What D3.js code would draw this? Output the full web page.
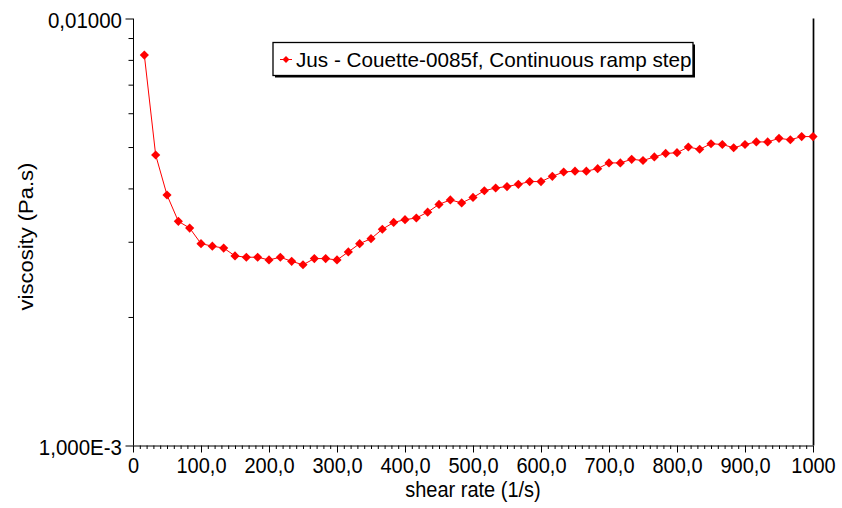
<!DOCTYPE html>
<html>
<head>
<meta charset="utf-8">
<script src="https://cdn.jsdelivr.net/npm/d3@7"></script>
<style>
  html, body { margin: 0; padding: 0; background: #fff; }
  svg text { font-family: Arial, "Liberation Sans", sans-serif; fill: #000; }
</style>
</head>
<body>
<svg id="chart" width="842" height="508"></svg>
<script>
// Shear rate (1/s) of each measured step
const shearRate = [
  16.67, 33.33, 50.00, 66.67, 83.33, 100.00, 116.67, 133.33, 150.00, 166.67,
  183.33, 200.00, 216.67, 233.33, 250.00, 266.67, 283.33, 300.00, 316.67, 333.33,
  350.00, 366.67, 383.33, 400.00, 416.67, 433.33, 450.00, 466.67, 483.33, 500.00,
  516.67, 533.33, 550.00, 566.67, 583.33, 600.00, 616.67, 633.33, 650.00, 666.67,
  683.33, 700.00, 716.67, 733.33, 750.00, 766.67, 783.33, 800.00, 816.67, 833.33,
  850.00, 866.67, 883.33, 900.00, 916.67, 933.33, 950.00, 966.67, 983.33, 1000.00
];

// Viscosity (Pa.s) at each step
const viscosity = [
  0.00821, 0.00479, 0.00386, 0.00335, 0.00323, 0.00297, 0.00293, 0.00290, 0.00278, 0.00276,
  0.00276, 0.00272, 0.00276, 0.00270, 0.00265, 0.00274, 0.00274, 0.00272, 0.00284, 0.00297,
  0.00305, 0.00321, 0.00333, 0.00338, 0.00341, 0.00352, 0.00367, 0.00376, 0.00370, 0.00381,
  0.00395, 0.00401, 0.00404, 0.00409, 0.00415, 0.00415, 0.00427, 0.00437, 0.00439, 0.00439,
  0.00445, 0.00459, 0.00459, 0.00468, 0.00465, 0.00474, 0.00483, 0.00485, 0.00500, 0.00494,
  0.00509, 0.00507, 0.00498, 0.00507, 0.00514, 0.00514, 0.00524, 0.00520, 0.00529, 0.00529
];

const seriesName = "Jus - Couette-0085f, Continuous ramp step";
const xLabel = "shear rate (1/s)";
const yLabel = "viscosity (Pa.s)";

const xMajorTicks = [0, 100, 200, 300, 400, 500, 600, 700, 800, 900, 1000];
const xTickLabels = ["0", "100,0", "200,0", "300,0", "400,0", "500,0", "600,0", "700,0", "800,0", "900,0", "1000"];
const yMajorTicks = [0.001, 0.01];
const yTickLabels = ["1,000E-3", "0,01000"];
const yMinorTicks = [0.002, 0.003, 0.004, 0.005, 0.006, 0.007, 0.008, 0.009];

const svg = d3.select("#chart");
const plotLeft = 133, plotRight = 813, plotTop = 18.5, plotBottom = 445.5;

const x = d3.scaleLinear().domain([0, 1000]).range([plotLeft, plotRight]);
const y = d3.scaleLog().domain([0.001, 0.01]).range([plotBottom, plotTop]);

const red = "#ff0000";
const fontStack = "Arial, 'Liberation Sans', sans-serif";
const tall = 1.1; // axis lettering is drawn slightly elongated vertically

// Bottom axis: long ticks every 100, short ticks every 10
const xMinor = d3.range(0, 1001, 10).filter(v => v % 100 !== 0);
const xAxisMinor = d3.axisBottom(x).tickValues(xMinor).tickSize(3.5).tickFormat("");
const xAxis = d3.axisBottom(x).tickValues(xMajorTicks).tickSize(7)
  .tickFormat((d, i) => xTickLabels[i]);

const gxm = svg.append("g").attr("transform", `translate(0,${plotBottom})`).call(xAxisMinor);
gxm.select(".domain").remove();
const gx = svg.append("g").attr("transform", `translate(0,${plotBottom})`).call(xAxis);
gx.select(".domain").attr("d", `M${plotLeft},0.5H${plotRight}`).attr("stroke", "#000");
gx.selectAll("text").attr("font-size", 20).attr("dy", null).attr("y", 0)
  .attr("transform", `translate(0,27.5) scale(1,${tall})`)
  .attr("font-family", fontStack);

// Left axis: log scale with decade labels and unlabeled minor ticks
const yAxisMinor = d3.axisLeft(y).tickValues(yMinorTicks).tickSize(4.5).tickFormat("");
const yAxis = d3.axisLeft(y).tickValues(yMajorTicks).tickSize(7.5)
  .tickFormat((d, i) => yTickLabels[i]);
const gym = svg.append("g").attr("transform", `translate(${plotLeft},0)`).call(yAxisMinor);
gym.select(".domain").remove();
const gy = svg.append("g").attr("transform", `translate(${plotLeft},0)`).call(yAxis);
gy.select(".domain").attr("d", `M0.5,${plotTop}V${plotBottom}`).attr("stroke", "#000");
gy.selectAll("text").attr("font-size", 20.5).attr("x", 0).attr("dy", "0.36em")
  .attr("transform", `translate(-11,0.5) scale(1,${tall})`)
  .attr("font-family", fontStack);
svg.selectAll(".tick line").attr("stroke", "#000");

// Right frame edge
svg.append("line")
  .attr("x1", plotRight + 0.5).attr("x2", plotRight + 0.5)
  .attr("y1", plotTop).attr("y2", plotBottom)
  .attr("stroke", "#000").attr("stroke-width", 1.7);

// Axis titles
svg.append("text")
  .attr("transform", `translate(${(plotLeft + plotRight) / 2},497) scale(1,${tall})`)
  .attr("text-anchor", "middle").attr("font-size", 20)
  .text(xLabel);
svg.append("text")
  .attr("transform", `translate(33,236.5) rotate(-90) scale(${tall},1)`)
  .attr("text-anchor", "middle").attr("font-size", 20)
  .text(yLabel);

// Series line and diamond markers
const pts = shearRate.map((s, i) => [s, viscosity[i]]);
const line = d3.line().x(d => x(d[0])).y(d => y(d[1]));
svg.append("path").datum(pts)
  .attr("d", line).attr("fill", "none")
  .attr("stroke", red).attr("stroke-width", 1);

svg.append("g").selectAll("path").data(pts).join("path")
  .attr("transform", d => `translate(${x(d[0])},${y(d[1])}) rotate(45)`)
  .attr("d", d3.symbol().type(d3.symbolSquare).size(42))
  .attr("fill", red);

// Legend box with drop shadow on the right and bottom
const lg = svg.append("g");
const lx = 273, ly = 42.5, lw = 420, lh = 33;
lg.append("rect").attr("x", lx + 2).attr("y", ly + 2).attr("width", lw).attr("height", lh)
  .attr("fill", "#000");
lg.append("rect").attr("x", lx).attr("y", ly).attr("width", lw).attr("height", lh)
  .attr("fill", "#fff").attr("stroke", "#000").attr("stroke-width", 1.3);
lg.append("line").attr("x1", lx + 7).attr("x2", lx + 19).attr("y1", ly + 17).attr("y2", ly + 17)
  .attr("stroke", red).attr("stroke-width", 1);
lg.append("path")
  .attr("transform", `translate(${lx + 13},${ly + 17}) rotate(45)`)
  .attr("d", d3.symbol().type(d3.symbolSquare).size(24))
  .attr("fill", red);
lg.append("text").attr("x", lx + 23).attr("y", ly + 24.5)
  .attr("font-size", 20.7).text(seriesName);
</script>
</body>
</html>
